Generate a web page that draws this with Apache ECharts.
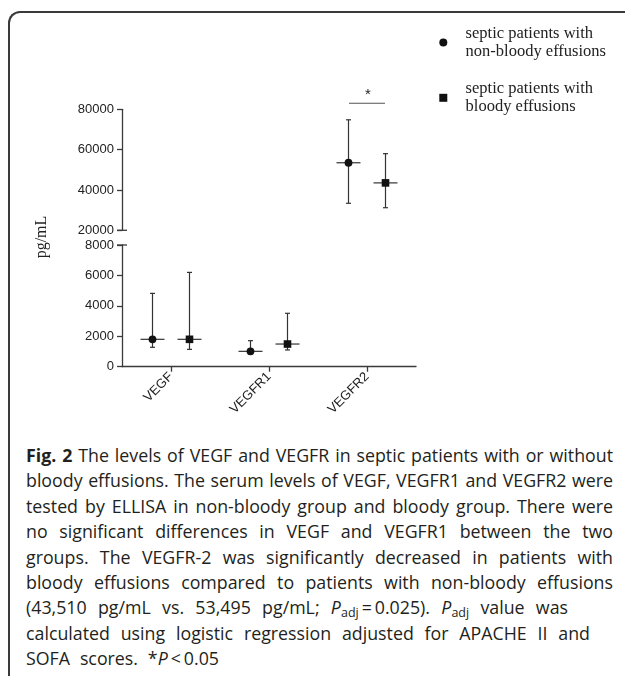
<!DOCTYPE html>
<html>
<head>
<meta charset="utf-8">
<script src="https://cdn.jsdelivr.net/npm/echarts@6/dist/echarts.min.js"></script>
<style>
html, body { margin: 0; padding: 0; background: #fff; }
#wrap { position: relative; width: 625px; height: 676px; overflow: hidden; }
#frame { position: absolute; left: 8px; top: 11px; width: 800px; height: 800px;
         border-left: 2px solid #3a3a3a; border-top: 2px solid #3a3a3a; border-top-left-radius: 12px; }
#chart { position: absolute; left: 0; top: 0; width: 625px; height: 440px; }
#caption { position: absolute; left: 26px; top: 443px; width: 587px; font-family: "Open Sans", sans-serif;
           font-size: 17.8px; line-height: 25.4px; color: #231f20; }
#caption div { white-space: nowrap; text-align: justify; text-align-last: justify; }
#caption sub { font-size: 12.5px; line-height: 0; vertical-align: -3px; }
</style>
</head>
<body>
<div id="wrap">
  <div id="frame"></div>
  <div id="chart"></div>
  <div id="caption">
    <div><b>Fig. 2</b> The levels of VEGF and VEGFR in septic patients with or without</div>
    <div>bloody effusions. The serum levels of VEGF, VEGFR1 and VEGFR2 were</div>
    <div>tested by ELLISA in non-bloody group and bloody group. There were</div>
    <div>no significant differences in VEGF and VEGFR1 between the two</div>
    <div>groups. The VEGFR-2 was significantly decreased in patients with</div>
    <div>bloody effusions compared to patients with non-bloody effusions</div>
    <div style="width:542px">(43,510 pg/mL vs. 53,495 pg/mL; <i>P</i><sub>adj</sub>&thinsp;=&thinsp;0.025). <i>P</i><sub>adj</sub> value was</div>
    <div style="width:564px">calculated using logistic regression adjusted for APACHE II and</div>
    <div style="width:193px">SOFA scores. *<i>P</i>&thinsp;&lt;&thinsp;0.05</div>
  </div>
</div>
<script>
// categories and values (pg/mL): median with lower / upper range
var categories = ['VEGF', 'VEGFR1', 'VEGFR2'];
var nonBloodyMedian = [1800, 1010, 53495];
var nonBloodyLow = [1275, 850, 33400];
var nonBloodyHigh = [4820, 1710, 74800];
var bloodyMedian = [1800, 1490, 43510];
var bloodyLow = [1140, 1100, 31200];
var bloodyHigh = [6200, 3510, 58000];

// broken y axis: lower part 0-8000, upper part 20000-80000
var lowerTicks = [0, 8000, 2000];
var upperTicks = [20000, 80000, 20000];
var breakAt = 8000;

// significance bar over VEGFR2
var sigCategory = 2;
var sigLevel = 83000;

var nbName = 'septic patients with\nnon-bloody effusions';
var bName = 'septic patients with\nbloody effusions';

var ink = '#111';
var barInk = '#333';

function splitItems(med, low, high, upper) {
    var out = [];
    for (var i = 0; i < med.length; i++) {
        if ((med[i] > breakAt) === upper) {
            out.push([i, med[i], low[i], high[i]]);
        }
    }
    return out;
}

function makeRender(kind, dx) {
    return function (params, api) {
        var c = api.value(0);
        var mid = api.coord([c, api.value(1)]);
        var lo = api.coord([c, api.value(2)]);
        var hi = api.coord([c, api.value(3)]);
        var x = mid[0] + dx;
        var ls = { stroke: barInk, lineWidth: 1.2 };
        var marker;
        if (kind === 'circle') {
            marker = { type: 'circle', shape: { cx: x, cy: mid[1], r: 3.9 }, style: { fill: ink } };
        } else {
            marker = { type: 'rect', shape: { x: x - 3.8, y: mid[1] - 3.8, width: 7.6, height: 7.6 }, style: { fill: ink } };
        }
        return {
            type: 'group',
            children: [
                { type: 'line', shape: { x1: x, y1: lo[1], x2: x, y2: hi[1] }, style: ls },
                { type: 'line', shape: { x1: x - 2.5, y1: lo[1], x2: x + 2.5, y2: lo[1] }, style: ls },
                { type: 'line', shape: { x1: x - 2.5, y1: hi[1], x2: x + 2.5, y2: hi[1] }, style: ls },
                { type: 'line', shape: { x1: x - 12, y1: mid[1], x2: x + 12, y2: mid[1] }, style: ls },
                marker
            ]
        };
    };
}

function sigRender(params, api) {
    var p = api.coord([api.value(0), api.value(1)]);
    return {
        type: 'group',
        children: [
            { type: 'line', shape: { x1: p[0] - 18, y1: p[1], x2: p[0] + 18, y2: p[1] },
              style: { stroke: '#555', lineWidth: 1 } },
            { type: 'text', x: p[0] + 0.8, y: p[1] - 1,
              style: { text: '*', font: '15px "Liberation Sans"', fill: '#222', align: 'center', verticalAlign: 'bottom' } }
        ]
    };
}

// short tick crossing the y axis where it is broken
function breakRender(params, api) {
    var p = api.coord([0, api.value(1)]);
    var x = params.coordSys.x;
    return { type: 'line', shape: { x1: x - 5, y1: p[1], x2: x + 5, y2: p[1] },
             style: { stroke: '#3a3a3a', lineWidth: 1.3 } };
}

var axisFont = { fontFamily: 'Liberation Sans', fontSize: 13, color: '#222' };
var axisLineStyle = { color: '#3a3a3a', width: 1.3 };

function yAxisFor(gridIndex, ticks) {
    return {
        type: 'value', gridIndex: gridIndex,
        min: ticks[0], max: ticks[1], interval: ticks[2],
        axisLine: { show: true, lineStyle: axisLineStyle },
        axisTick: { show: true, length: 5, lineStyle: axisLineStyle },
        axisLabel: Object.assign({ margin: 8, formatter: function (v) { return String(v); } }, axisFont),
        splitLine: { show: false }
    };
}

var chart = echarts.init(document.getElementById('chart'));

var option = {
    animation: false,
    backgroundColor: 'transparent',
    legend: {
        orient: 'vertical', left: 439.3, top: 24, padding: 0,
        itemWidth: 34.6, itemHeight: 8, itemGap: 18.6,
        symbolKeepAspect: true,
        selectedMode: false,
        textStyle: { fontFamily: 'Liberation Serif', fontSize: 16.5, lineHeight: 18.4, color: '#222' },
        data: [
            { name: nbName, icon: 'circle' },
            { name: bName, icon: 'path://M0 0H10V10H0Z' }
        ]
    },
    grid: [
        { left: 122, top: 109.3, width: 294, height: 121 },
        { left: 122, top: 245, width: 294, height: 121.7 }
    ],
    xAxis: [
        { type: 'category', gridIndex: 0, data: categories, show: false },
        {
            type: 'category', gridIndex: 1, data: categories,
            axisLine: { show: true, lineStyle: axisLineStyle },
            axisTick: { show: true, alignWithLabel: true, length: 5, lineStyle: axisLineStyle },
            axisLabel: Object.assign({ rotate: 45, margin: 8 }, axisFont)
        }
    ],
    yAxis: [yAxisFor(0, upperTicks), yAxisFor(1, lowerTicks)],
    graphic: [{
        type: 'text', x: 42, y: 237, rotation: Math.PI / 2,
        style: { text: 'pg/mL', font: '16px "Liberation Serif"', fill: '#222', align: 'center', verticalAlign: 'middle' }
    }],
    series: [
        { name: nbName, type: 'custom', xAxisIndex: 0, yAxisIndex: 0, itemStyle: { color: ink },
          renderItem: makeRender('circle', -18.5), data: splitItems(nonBloodyMedian, nonBloodyLow, nonBloodyHigh, true) },
        { name: bName, type: 'custom', xAxisIndex: 0, yAxisIndex: 0, itemStyle: { color: ink },
          renderItem: makeRender('square', 18.5), data: splitItems(bloodyMedian, bloodyLow, bloodyHigh, true) },
        { name: nbName, type: 'custom', xAxisIndex: 1, yAxisIndex: 1, itemStyle: { color: ink },
          renderItem: makeRender('circle', -18.5), data: splitItems(nonBloodyMedian, nonBloodyLow, nonBloodyHigh, false) },
        { name: bName, type: 'custom', xAxisIndex: 1, yAxisIndex: 1, itemStyle: { color: ink },
          renderItem: makeRender('square', 18.5), data: splitItems(bloodyMedian, bloodyLow, bloodyHigh, false) },
        { name: 'significance', type: 'custom', xAxisIndex: 0, yAxisIndex: 0, clip: false,
          renderItem: sigRender, data: [[sigCategory, sigLevel]] },
        { name: 'breakUpper', type: 'custom', xAxisIndex: 0, yAxisIndex: 0, clip: false,
          renderItem: breakRender, data: [[0, upperTicks[0]]] },
        { name: 'breakLower', type: 'custom', xAxisIndex: 1, yAxisIndex: 1, clip: false,
          renderItem: breakRender, data: [[0, lowerTicks[1]]] }
    ]
};

chart.setOption(option);
</script>
</body>
</html>
